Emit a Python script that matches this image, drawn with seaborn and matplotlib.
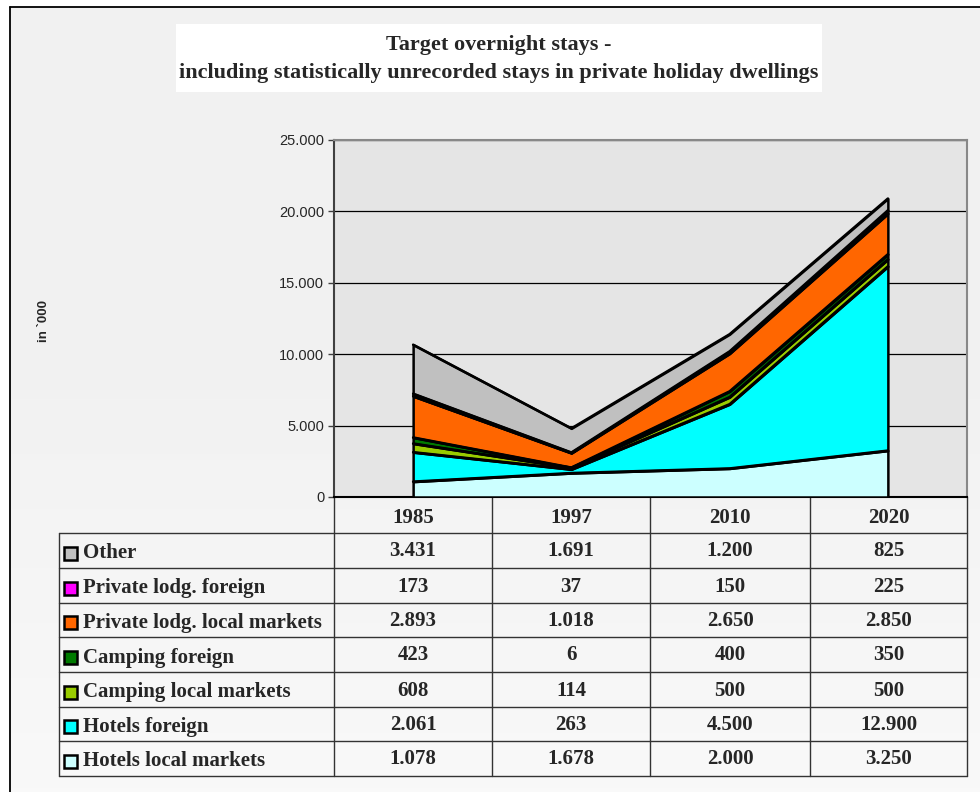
import numpy as np
import pandas as pd
import matplotlib
matplotlib.use("Agg")
import matplotlib.pyplot as plt
import seaborn as sns
from matplotlib.patches import Rectangle

# ---------------- data ----------------
years = ["1985", "1997", "2010", "2020"]
series_names = [
    "Hotels local markets",
    "Hotels foreign",
    "Camping local markets",
    "Camping foreign",
    "Private lodg. local markets",
    "Private lodg. foreign",
    "Other",
]
hotels_local = [1078, 1678, 2000, 3250]
hotels_foreign = [2061, 263, 4500, 12900]
camping_local = [608, 114, 500, 500]
camping_foreign = [423, 6, 400, 350]
private_local = [2893, 1018, 2650, 2850]
private_foreign = [173, 37, 150, 225]
other = [3431, 1691, 1200, 825]
colors = ["#ccffff", "#00ffff", "#99cc00", "#007a00", "#ff6600", "#ff00ff", "#c0c0c0"]
y_ticks = [0, 5000, 10000, 15000, 20000, 25000]
title = "Target overnight stays -\nincluding statistically unrecorded stays in private holiday dwellings"
ylabel = "in `000"

values = [hotels_local, hotels_foreign, camping_local, camping_foreign,
          private_local, private_foreign, other]

df = pd.DataFrame({name: v for name, v in zip(series_names, values)})
df["year"] = years
df["x"] = np.arange(len(years))

sns.set_style("white")
plt.rcParams["font.family"] = ["Liberation Serif", "DejaVu Serif"]

W, H = 980, 792
fig = plt.figure(figsize=(W / 100, H / 100), dpi=100)
fig.patch.set_facecolor("white")

# overlay axes in pixel coordinates for background, frame, table
bg = fig.add_axes([0, 0, 1, 1], zorder=0)
grad = np.linspace(0, 1, 200).reshape(-1, 1)
bg.imshow(grad, extent=[10, W, H, 7], cmap=matplotlib.colors.LinearSegmentedColormap.from_list(
    "g", ["#f1f1f1", "#f2f2f2", "#f9f9f9"]), aspect="auto", zorder=0)
bg.set_xlim(0, W)
bg.set_ylim(H, 0)
bg.axis("off")
bg.plot([10, 10], [7, H], color="black", lw=1.3, zorder=1)
bg.plot([10, W], [7, 7], color="black", lw=1.3, zorder=1)

# title box
bg.add_patch(Rectangle((176, 24), 646, 68, facecolor="white", edgecolor="none", zorder=1))
bg.text(499, 59, title, ha="center", va="center", fontsize=16, fontweight="bold",
        linespacing=1.55, zorder=2)

# y label
bg.text(44, 321, ylabel, rotation=90, ha="center", va="center", fontsize=9.5,
        fontweight="bold", family=["Liberation Sans", "DejaVu Sans"], zorder=2)

# ---------------- main plot ----------------
L, R, T, B = 334, 967, 140, 497
ax = fig.add_axes([L / W, 1 - B / H, (R - L) / W, (B - T) / H], zorder=2)
ax.set_facecolor("#e5e5e5")

cum = np.zeros(len(years))
for name, col in zip(series_names, colors):
    top = cum + df[name].values
    ax.fill_between(df["x"], cum, top, facecolor=col, edgecolor="black",
                    linewidth=1.8, zorder=3)
    cum = top
# edge lines through seaborn
cum = np.zeros(len(years))
for name in series_names:
    cum = cum + df[name].values
    sns.lineplot(x=df["x"], y=cum, ax=ax, color="black", linewidth=1.8, zorder=4,
                 legend=False)

ax.set_xlim(-0.5, len(years) - 0.5)
ax.set_ylim(0, 25000)
ax.set_yticks(y_ticks)
ax.set_yticklabels([f"{v:,}".replace(",", ".") for v in y_ticks],
                   family=["Liberation Sans", "DejaVu Sans"], fontsize=10.5)
ax.set_xticks([])
ax.set_xlabel("")
ax.set_ylabel("")
ax.yaxis.grid(True, color="black", linewidth=0.9)
ax.set_axisbelow(True)
ax.tick_params(axis="y", left=True, length=4, width=1, color="#404040", pad=3)
for s in ["top", "right"]:
    ax.spines[s].set_color("#888888")
    ax.spines[s].set_linewidth(1.5)
ax.spines["left"].set_color("#404040")
ax.spines["left"].set_linewidth(1.5)
ax.spines["bottom"].set_color("black")
ax.spines["bottom"].set_linewidth(1.5)

# ---------------- data table ----------------
col_edges = [334, 492, 650, 810, 967]
row_edges = [497, 533, 568, 603, 637, 672, 707, 741, 776]
label_left = 59
lc = "#333333"
for cx in col_edges:
    bg.plot([cx, cx], [row_edges[0], row_edges[-1]], color=lc, lw=1.0, zorder=3)
bg.plot([label_left, label_left], [row_edges[1], row_edges[-1]], color=lc, lw=1.0, zorder=3)
for ry in row_edges[1:]:
    bg.plot([label_left, col_edges[-1]], [ry, ry], color=lc, lw=1.0, zorder=3)

fs = 15
for i, yr in enumerate(years):
    cx = (col_edges[i] + col_edges[i + 1]) / 2
    bg.text(cx, (row_edges[0] + row_edges[1]) / 2 + 3, yr, ha="center", va="center",
            fontsize=fs, fontweight="bold", zorder=4)

for r, (name, col) in enumerate(zip(series_names[::-1], colors[::-1])):
    y0, y1 = row_edges[r + 1], row_edges[r + 2]
    yc = (y0 + y1) / 2 + 3
    bg.add_patch(Rectangle((64, yc - 7), 13, 13, facecolor=col, edgecolor="black",
                           lw=1.8, zorder=4))
    bg.text(83, yc, name, ha="left", va="center", fontsize=fs, fontweight="bold", zorder=4)
    for i in range(len(years)):
        cx = (col_edges[i] + col_edges[i + 1]) / 2
        v = df[name].values[i]
        bg.text(cx, yc - 2, f"{v:,}".replace(",", "."), ha="center", va="center",
                fontsize=fs, fontweight="bold", zorder=4)

fig.savefig("out.png", dpi=100)
